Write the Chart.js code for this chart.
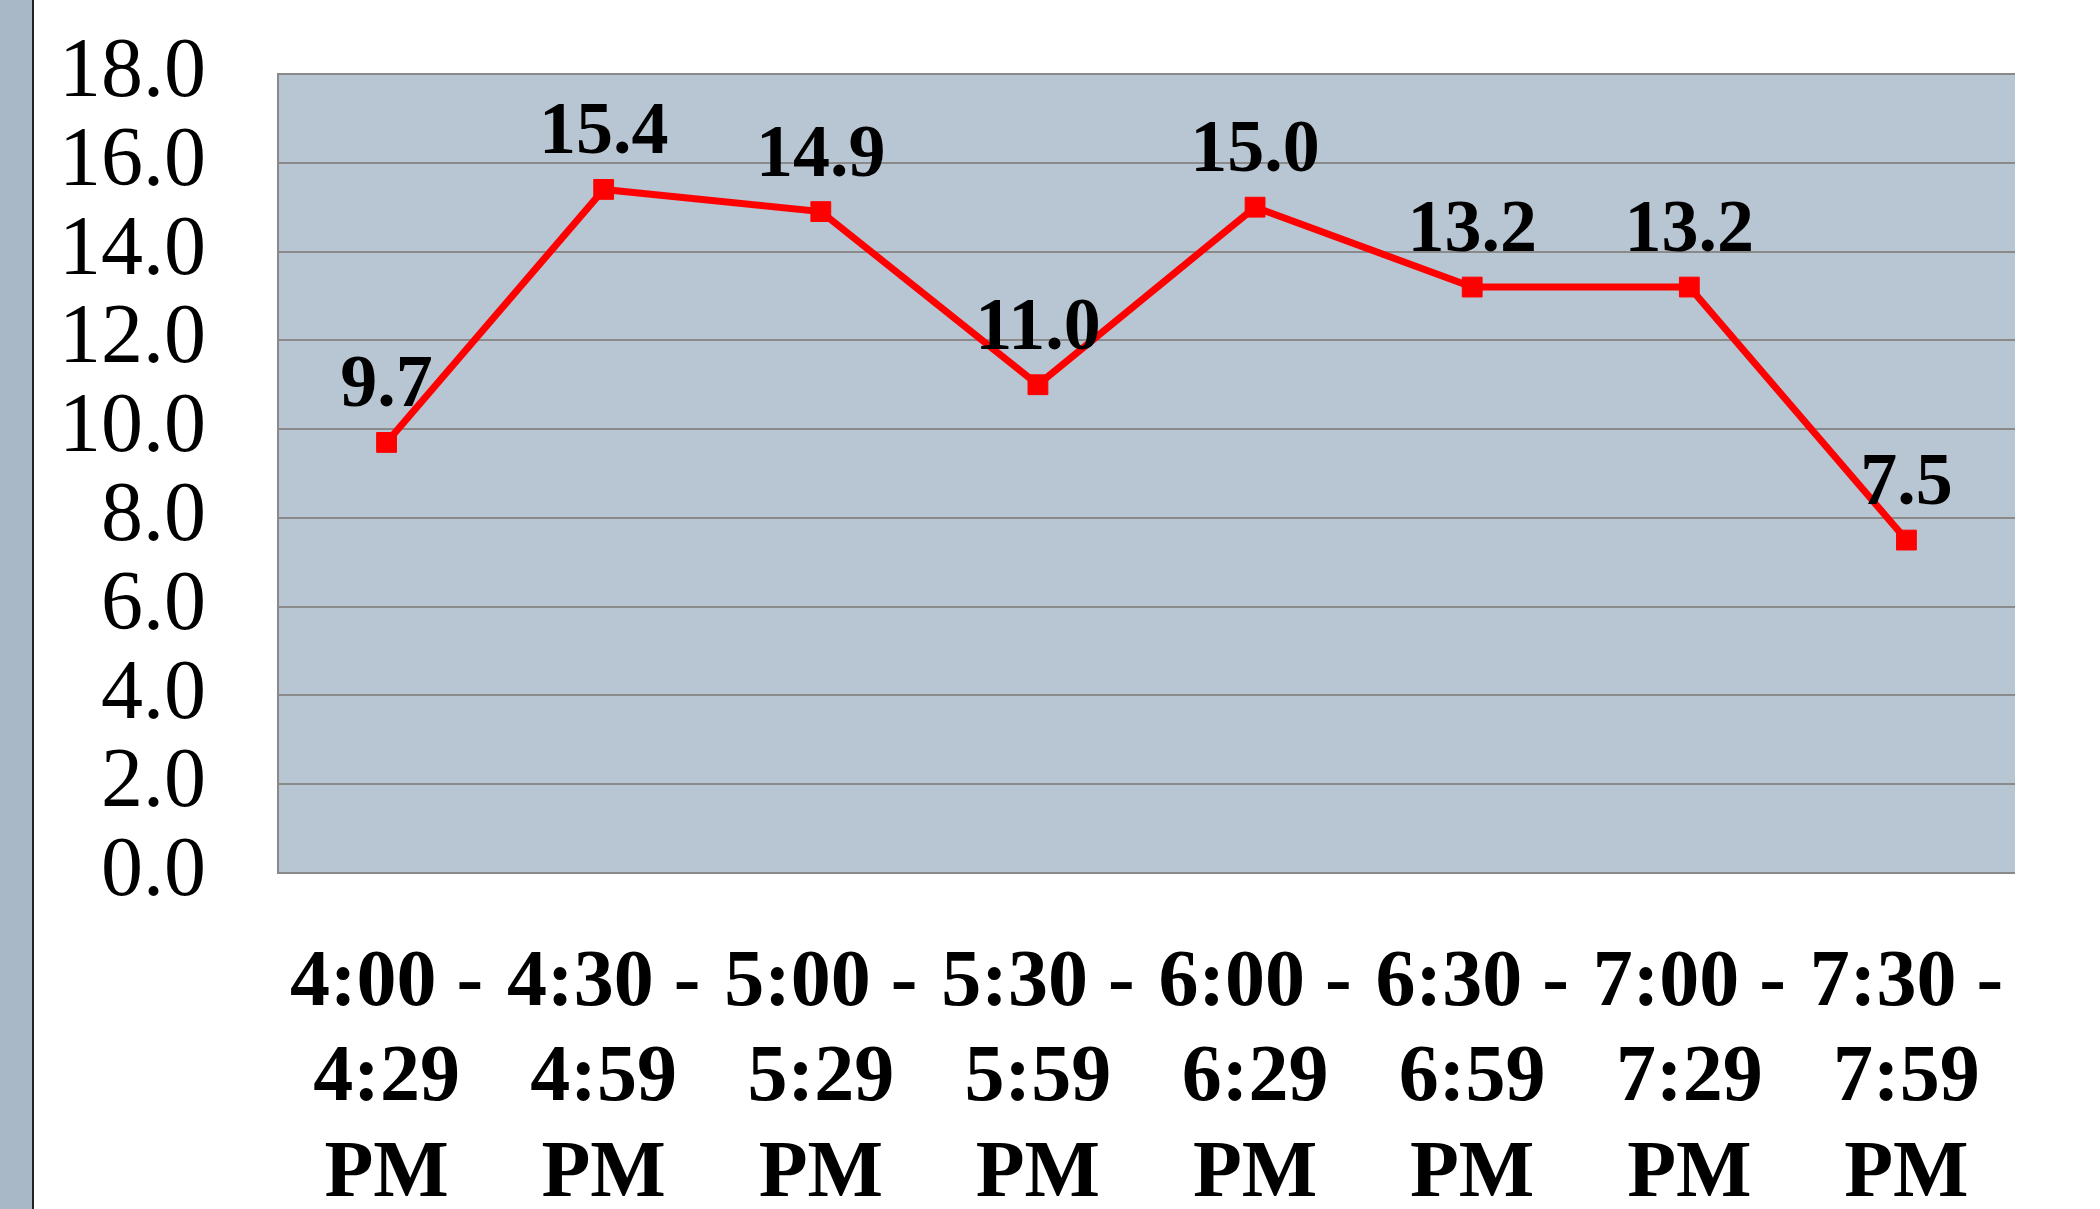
<!DOCTYPE html>
<html>
<head>
<meta charset="utf-8">
<title>Count by half hour</title>
<script src="https://cdn.jsdelivr.net/npm/chart.js@4.4.1/dist/chart.umd.min.js"></script>
<style>
  html, body { margin: 0; padding: 0; background: #fff; }
  #wrap { position: relative; width: 2100px; height: 1209px; }
  #strip {
    position: absolute; left: 0; top: 0; width: 32px; height: 1209px;
    background: #a9b8c7; border-right: 2px solid #222;
  }
  #myChart { position: absolute; left: 0; top: 0; }
</style>
</head>
<body>
<div id="wrap">
  <div id="strip"></div>
  <canvas id="myChart" width="2100" height="1209"></canvas>
</div>
<script>
var periods = [
  ["4:00 -", "4:29", "PM"],
  ["4:30 -", "4:59", "PM"],
  ["5:00 -", "5:29", "PM"],
  ["5:30 -", "5:59", "PM"],
  ["6:00 -", "6:29", "PM"],
  ["6:30 -", "6:59", "PM"],
  ["7:00 -", "7:29", "PM"],
  ["7:30 -", "7:59", "PM"]
];
var counts = [9.7, 15.4, 14.9, 11.0, 15.0, 13.2, 13.2, 7.5];
var yTicks = [0, 2, 4, 6, 8, 10, 12, 14, 16, 18];

// fill behind the plot area
var plotBackground = {
  id: 'plotBackground',
  beforeDraw: function(chart) {
    var a = chart.chartArea;
    var ctx = chart.ctx;
    ctx.save();
    ctx.fillStyle = '#b8c5d2';
    ctx.fillRect(a.left, a.top, a.right - a.left, a.bottom - a.top);
    ctx.restore();
  }
};

// value written above each point
var valueLabels = {
  id: 'valueLabels',
  afterDatasetsDraw: function(chart) {
    var ctx = chart.ctx;
    var meta = chart.getDatasetMeta(0);
    ctx.save();
    ctx.font = 'bold 74px "Liberation Serif", "Times New Roman", serif';
    ctx.fillStyle = '#000';
    ctx.textAlign = 'center';
    ctx.textBaseline = 'alphabetic';
    meta.data.forEach(function(pt, i) {
      ctx.fillText(counts[i].toFixed(1), pt.x, pt.y - 36);
    });
    ctx.restore();
  }
};

var config = {
  type: 'line',
  data: {
    labels: periods,
    datasets: [{
      data: counts,
      borderColor: '#ff0000',
      backgroundColor: '#ff0000',
      borderWidth: 7,
      pointStyle: 'rect',
      pointRadius: 14,
      pointBorderWidth: 1,
      pointBackgroundColor: '#ff0000',
      pointBorderColor: '#ff0000',
      tension: 0,
      fill: false
    }]
  },
  options: {
    responsive: false,
    animation: false,
    layout: { padding: { left: 40, right: 85, top: 74, bottom: 0 } },
    plugins: {
      legend: { display: false },
      tooltip: { enabled: false }
    },
    scales: {
      x: {
        offset: true,
        grid: { display: false, drawTicks: false },
        border: { display: false },
        ticks: {
          color: '#000',
          padding: 64,
          maxRotation: 0,
          autoSkip: false,
          font: { family: '"Liberation Serif", "Times New Roman", serif', size: 80, weight: 'bold', lineHeight: 1.19 }
        },
        afterFit: function(scale) { scale.height = 336; }
      },
      y: {
        min: 0,
        max: 18,
        afterBuildTicks: function(scale) {
          scale.ticks = yTicks.map(function(v) { return { value: v }; });
        },
        grid: { color: '#8a8a8a', lineWidth: 2, drawTicks: false },
        border: { display: true, color: '#8a8a8a', width: 2 },
        ticks: {
          color: '#000',
          padding: 72,
          autoSkip: false,
          callback: function(v) { return Number(v).toFixed(1); },
          font: { family: '"Liberation Serif", "Times New Roman", serif', size: 84, lineHeight: 1.0 }
        },
        afterFit: function(scale) {
          scale.width = 238;
          // the top label may hang above the plot; the page margin covers it
          scale.paddingTop = 0;
          scale.paddingBottom = 0;
        }
      }
    }
  },
  plugins: [plotBackground, valueLabels]
};

var myChart = new Chart(document.getElementById('myChart'), config);
</script>
</body>
</html>
